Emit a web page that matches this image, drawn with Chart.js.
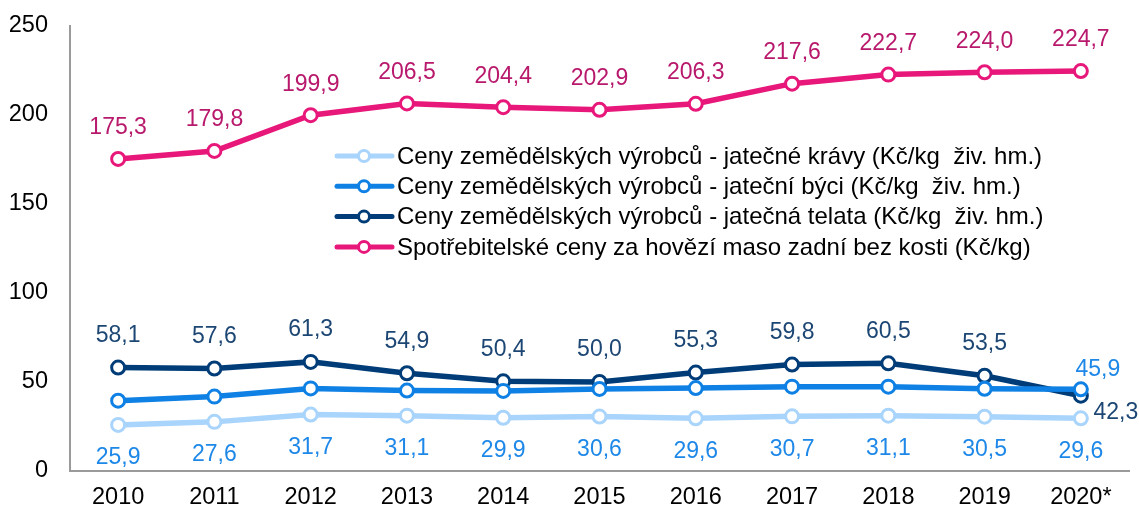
<!DOCTYPE html>
<html>
<head>
<meta charset="utf-8">
<script src="https://cdn.jsdelivr.net/npm/chart.js@4.4.0/dist/chart.umd.min.js"></script>
<style>
  html, body { margin: 0; padding: 0; background: #fff; }
  #wrap { width: 1139px; height: 509px; }
</style>
</head>
<body>
<div id="wrap"><canvas id="chart" width="1139" height="509"></canvas></div>
<script>
// --- Data ---
const years = ['2010', '2011', '2012', '2013', '2014', '2015', '2016', '2017', '2018', '2019', '2020*'];
const kravy = [25.9, 27.6, 31.7, 31.1, 29.9, 30.6, 29.6, 30.7, 31.1, 30.5, 29.6];
const byci = [39.5, 41.8, 46.4, 45.2, 45.0, 46.1, 46.6, 47.4, 47.4, 46.2, 45.9];
const telata = [58.1, 57.6, 61.3, 54.9, 50.4, 50.0, 55.3, 59.8, 60.5, 53.5, 42.3];
const spotrebitel = [175.3, 179.8, 199.9, 206.5, 204.4, 202.9, 206.3, 217.6, 222.7, 224.0, 224.7];
const yTicks = [0, 50, 100, 150, 200, 250];

const FONT = '"Liberation Sans", Arial, sans-serif';

const series = [
    { label: 'Ceny zemědělských výrobců - jatečné krávy (Kč/kg  živ. hm.)', data: kravy,
      color: '#a9d4fb', textColor: '#1e88e8', labels: 'below' },
    { label: 'Ceny zemědělských výrobců - jateční býci (Kč/kg  živ. hm.)', data: byci,
      color: '#0f80e4', textColor: '#1e88e8', labels: 'lastOnly' },
    { label: 'Ceny zemědělských výrobců - jatečná telata (Kč/kg  živ. hm.)', data: telata,
      color: '#003d78', textColor: '#1c4673', labels: 'aboveLastRight' },
    { label: 'Spotřebitelské ceny za hovězí maso zadní bez kosti (Kč/kg)', data: spotrebitel,
      color: '#e8177a', textColor: '#b8196c', labels: 'above' }
];

const fmt = v => v.toFixed(1).replace('.', ',');

// Data labels drawn next to the points
const valueLabels = {
    id: 'valueLabels',
    afterDatasetsDraw(chart) {
        const ctx = chart.ctx;
        ctx.save();
        ctx.font = '23px ' + FONT;
        ctx.textAlign = 'center';
        ctx.textBaseline = 'middle';
        chart.data.datasets.forEach((ds, i) => {
            const s = series[i];
            const meta = chart.getDatasetMeta(i);
            ctx.fillStyle = s.textColor;
            meta.data.forEach((pt, j) => {
                const last = j === meta.data.length - 1;
                let dx = 0, dy = 0;
                if (s.labels === 'below') dy = 33;
                else if (s.labels === 'above') dy = -31;
                else if (s.labels === 'lastOnly') {
                    if (!last) return;
                    dx = 17; dy = -20;
                } else if (s.labels === 'aboveLastRight') {
                    if (last) { dx = 35; dy = 17; } else dy = -32;
                }
                ctx.fillText(fmt(ds.data[j]), pt.x + dx, pt.y + dy);
            });
        });
        ctx.restore();
    }
};

// Legend drawn inside the plot area: line with hollow marker + text
const innerLegend = {
    id: 'innerLegend',
    afterDatasetsDraw(chart) {
        const ctx = chart.ctx;
        const x0 = 337;
        let y = 156;
        ctx.save();
        ctx.font = '24px ' + FONT;
        ctx.textBaseline = 'middle';
        ctx.textAlign = 'left';
        series.forEach(s => {
            ctx.strokeStyle = s.color;
            ctx.lineWidth = 5;
            ctx.lineCap = 'round';
            ctx.beginPath();
            ctx.moveTo(x0, y);
            ctx.lineTo(x0 + 55, y);
            ctx.stroke();
            ctx.beginPath();
            ctx.arc(x0 + 27, y, 5.5, 0, Math.PI * 2);
            ctx.fillStyle = '#fff';
            ctx.fill();
            ctx.lineWidth = 3;
            ctx.stroke();
            ctx.fillStyle = '#000';
            ctx.fillText(s.label, x0 + 60, y + 1);
            y += 30.3;
        });
        ctx.restore();
    }
};

new Chart(document.getElementById('chart'), {
    type: 'line',
    data: {
        labels: years,
        datasets: series.map(s => ({
            label: s.label,
            data: s.data,
            borderColor: s.color,
            backgroundColor: '#fff',
            borderWidth: 5.5,
            pointRadius: 6.5,
            pointBorderWidth: 3,
            pointBackgroundColor: '#fff',
            pointBorderColor: s.color,
            tension: 0
        }))
    },
    options: {
        responsive: false,
        animation: false,
        layout: { padding: { left: 10, right: 10, top: 26, bottom: 0 } },
        plugins: {
            legend: { display: false },
            tooltip: { enabled: false }
        },
        scales: {
            x: {
                offset: true,
                afterFit: axis => { axis.height = 38; axis.paddingLeft = 0; axis.paddingRight = 0; },
                grid: { display: false, drawTicks: false },
                border: { display: true, color: '#9a9a9a', width: 2 },
                ticks: { color: '#000', font: { size: 23.5, family: FONT, lineHeight: 1 }, padding: 15, maxRotation: 0 }
            },
            y: {
                min: 0,
                max: 250,
                afterBuildTicks: axis => { axis.ticks = yTicks.map(v => ({ value: v })); },
                afterFit: axis => { axis.width = 60; axis.paddingTop = 0; axis.paddingBottom = 0; },
                grid: { display: false, drawTicks: false },
                border: { display: true, color: '#9a9a9a', width: 2 },
                ticks: { color: '#000', font: { size: 23.5, family: FONT }, padding: 22 }
            }
        }
    },
    plugins: [valueLabels, innerLegend]
});
</script>
</body>
</html>
